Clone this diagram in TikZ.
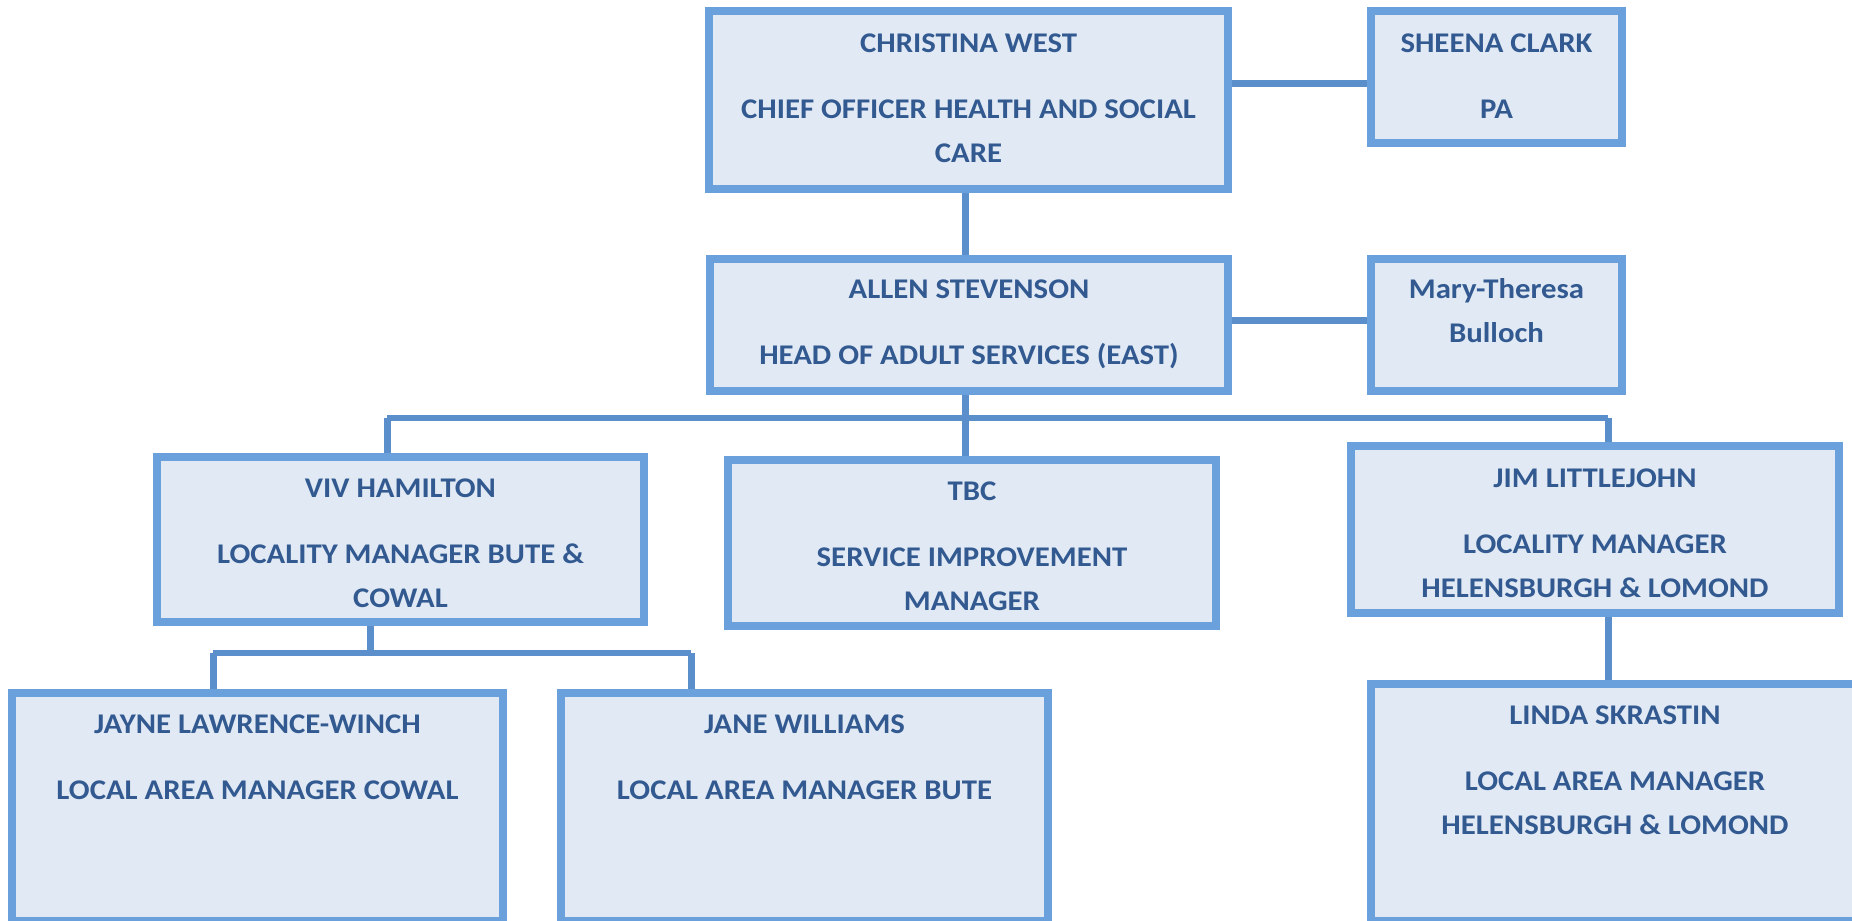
\documentclass[tikz,border=0pt]{standalone}
\usepackage{fontspec}
\setmainfont{Carlito}[FakeStretch=1.08]
\definecolor{boxline}{HTML}{6AA0DC}
\definecolor{boxfill}{HTML}{E1E9F4}
\definecolor{connline}{HTML}{5B8FCC}
\definecolor{txtblue}{HTML}{325A91}
\begin{document}
\begin{tikzpicture}[x=1bp,y=-1bp,
  orgbox/.style={draw=boxline, fill=boxfill, line width=8bp, inner sep=0pt, rectangle},
  orgtxt/.style={text=txtblue, align=center, inner sep=0pt, anchor=base,
    font={\fontsize{28.5bp}{44bp}\selectfont\bfseries}},
  conn/.style={draw=connline, line width=7bp},
  bus/.style={draw=connline, line width=6bp}]
\fill[white] (0,0) rectangle (1852,921);
\useasboundingbox (0,0) rectangle (1852,921);

% boxes
\node[orgbox, minimum width=519bp, minimum height=178bp] (chr) at (968.5,100) {};
\node[orgbox, minimum width=251bp, minimum height=132bp] (she) at (1496.5,77) {};
\node[orgbox, minimum width=518bp, minimum height=132bp] (all) at (969,325) {};
\node[orgbox, minimum width=251bp, minimum height=132bp] (mar) at (1496.5,325) {};
\node[orgbox, minimum width=487bp, minimum height=165bp] (viv) at (400.5,539.5) {};
\node[orgbox, minimum width=488bp, minimum height=166bp] (tbc) at (972,543) {};
\node[orgbox, minimum width=488bp, minimum height=167bp] (jim) at (1595,529.5) {};
\node[orgbox, minimum width=491bp, minimum height=228bp] (jay) at (257.5,807) {};
\node[orgbox, minimum width=487bp, minimum height=228bp] (jan) at (804.5,807) {};
\node[orgbox, minimum width=488bp, minimum height=237bp] (lin) at (1615,802.5) {};

% texts (anchor = baseline of the last line)
\node[orgtxt] (chrt) at (968.5,162) {CHRISTINA WEST\\[22bp]CHIEF OFFICER HEALTH AND SOCIAL\\CARE};
\node[orgtxt] (shet) at (1496.5,118) {SHEENA CLARK\\[22bp]PA};
\node[orgtxt] (allt) at (969,364) {ALLEN STEVENSON\\[22bp]HEAD OF ADULT SERVICES (EAST)};
\node[orgtxt] (mart) at (1496.5,342) {Mary-Theresa\\Bulloch};
\node[orgtxt] (vivt) at (400.5,607) {VIV HAMILTON\\[22bp]LOCALITY MANAGER BUTE \&\\COWAL};
\node[orgtxt] (tbct) at (972,610) {TBC\\[22bp]SERVICE IMPROVEMENT\\MANAGER};
\node[orgtxt] (jimt) at (1595,597) {JIM LITTLEJOHN\\[22bp]LOCALITY MANAGER\\HELENSBURGH \& LOMOND};
\node[orgtxt] (jayt) at (257.5,799) {JAYNE LAWRENCE-WINCH\\[22bp]LOCAL AREA MANAGER COWAL};
\node[orgtxt] (jant) at (804.5,799) {JANE WILLIAMS\\[22bp]LOCAL AREA MANAGER BUTE};
\node[orgtxt] (lint) at (1615,834) {LINDA SKRASTIN\\[22bp]LOCAL AREA MANAGER\\HELENSBURGH \& LOMOND};

% bus coordinates
\coordinate (trunk) at (965,418);
\coordinate (busL) at (387,418);
\coordinate (busR) at (1608,418);
\coordinate (vivdrop) at (370,653);
\coordinate (subL) at (213,653);
\coordinate (subR) at (691,653);

% connectors
\draw[conn] (chr.east |- 0,83.5) -- (she.west |- 0,83.5);
\draw[conn] (all.east |- 0,320) -- (mar.west |- 0,320);
\draw[conn] (chr.south -| trunk) -- (all.north -| trunk);
\draw[conn] (all.south -| trunk) -- (tbc.north -| trunk);
\draw[bus] (busL) -- (busR);
\draw[conn] (busL) -- (viv.north -| busL);
\draw[conn] (busR) -- (jim.north -| busR);
\draw[conn] (jim.south -| busR) -- (lin.north -| busR);
\draw[conn] (viv.south -| vivdrop) -- (vivdrop);
\draw[bus] (subL) -- (subR);
\draw[conn] (subL) -- (jay.north -| subL);
\draw[conn] (subR) -- (jan.north -| subR);
\end{tikzpicture}
\end{document}
